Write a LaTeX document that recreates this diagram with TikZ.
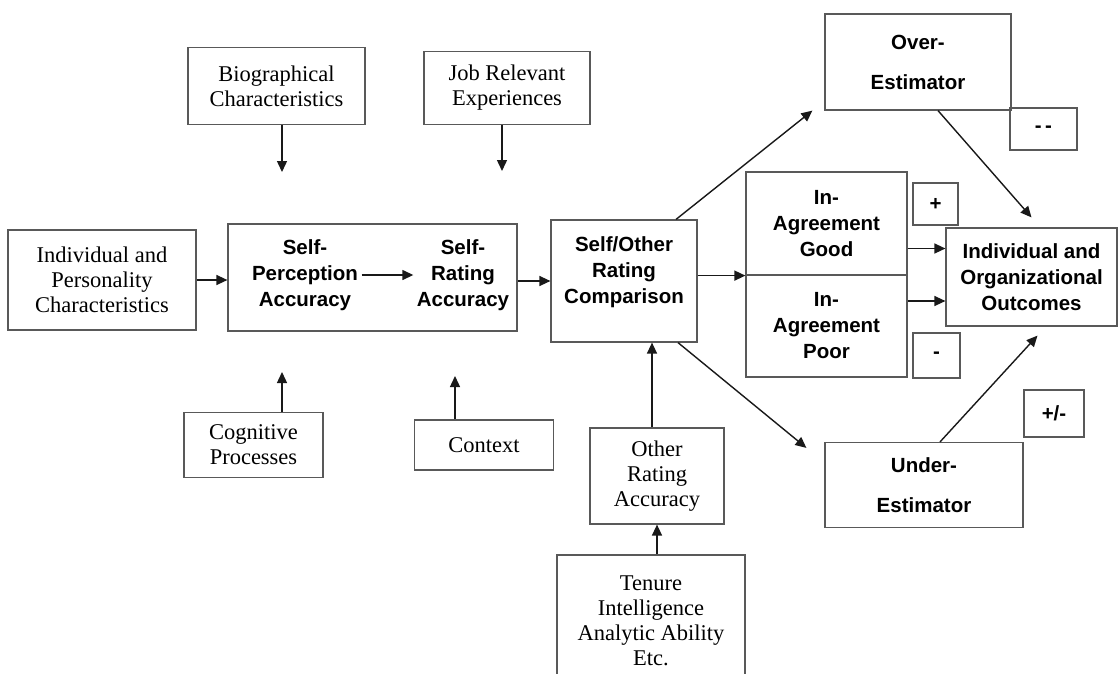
\documentclass[tikz,border=0pt]{standalone}
\usepackage{fontspec}
\setmainfont{Liberation Serif}
\newfontfamily\boldsans{Liberation Sans}
\usetikzlibrary{arrows.meta,calc}
\begin{document}
\begin{tikzpicture}[x=1pt,y=-1pt,
  box/.style={draw=black!65, line width=1.2pt, inner sep=0pt, align=center},
  serif/.style={font=\fontsize{22.5}{25}\selectfont},
  bsans/.style={font=\boldsans\bfseries\fontsize{20.5}{26}\selectfont, align=center},
  tall/.style={font=\boldsans\bfseries\fontsize{20.5}{40}\selectfont, align=center},
  arr/.style={line width=1.4pt, draw=black!90, -{Triangle[length=11pt,width=10pt]}}]
\clip (0,0) rectangle (1119,673);
\fill[white] (0,0) rectangle (1119,673);
% top inputs
\node[box,serif,minimum width=177,minimum height=77] (bio) at (276.5,86) {Biographical\\Characteristics};
\node[box,serif,minimum width=166,minimum height=73] (job) at (507,88) {Job Relevant\\Experiences};
\node[box,serif,minimum width=188,minimum height=100] (ind) at (102,280) {Individual and\\Personality\\Characteristics};
% self box
\node[box,minimum width=289,minimum height=107] (self) at (372.5,277.5) {};
\node[bsans] (sp) at (305,275) {Self-\\Perception\\Accuracy};
\node[bsans] (sr) at (463,275) {Self-\\Rating\\Accuracy};
% comparison
\node[box,bsans,minimum width=146,minimum height=122,text depth=22pt] (so) at (624,281) {Self/Other\\Rating\\Comparison};
\node[box,bsans,minimum width=161,minimum height=103] (good) at (826.5,223.5) {In-\\Agreement\\Good};
\node[box,bsans,minimum width=161,minimum height=102] (poor) at (826.5,326) {In-\\Agreement\\Poor};
\node[box,tall,minimum width=186,minimum height=96] (over) at (918,62) {Over-\\Estimator};
\node[box,tall,minimum width=198,minimum height=85] (under) at (924,485) {Under-\\Estimator};
\node[box,bsans,minimum width=171,minimum height=98] (out) at (1031.5,277) {Individual and\\Organizational\\Outcomes};
% sign boxes
\node[box,bsans,minimum width=67,minimum height=42] (mm) at (1043.5,129) {-\,-};
\node[box,bsans,minimum width=45,minimum height=42] (plus) at (935.5,204) {+};
\node[box,bsans,minimum width=47,minimum height=45] (minus) at (936.5,355.5) {-};
\node[box,bsans,minimum width=60,minimum height=47] (pm) at (1054,413.5) {+/-};
% bottom inputs
\node[box,serif,minimum width=139,minimum height=65] (cog) at (253.5,445) {Cognitive\\Processes};
\node[box,serif,minimum width=139,minimum height=50] (ctx) at (484,445) {Context};
\node[box,serif,minimum width=134,minimum height=96] (other) at (657,476) {Other\\Rating\\Accuracy};
\node[box,serif,minimum width=188,minimum height=132] (ten) at (651,621) {Tenure\\Intelligence\\Analytic Ability\\Etc.};
% free ends
\coordinate (bioEnd) at (282,172);
\coordinate (jobEnd) at (502,171);
\coordinate (cogEnd) at (282,372);
\coordinate (ctxEnd) at (455,376);
% arrows
\draw[arr] (bio.south -| bioEnd) -- (bioEnd);
\draw[arr] (job.south -| jobEnd) -- (jobEnd);
\draw[arr] (cog.north -| cogEnd) -- (cogEnd);
\draw[arr] (ctx.north -| ctxEnd) -- (ctxEnd);
\draw[arr] (ind.east) -- (self.west |- ind.east);
\draw[arr] (sp.east) -- (sr.west);
\draw[arr] (self.east |- so.west) -- (so.west);
\draw[arr] (so.east |- good.south west) -- (good.south west);
\draw[arr] ([xshift=52pt]so.north) -- ([xshift=-12pt]over.south west);
\draw[arr] ([xshift=54pt]so.south) -- ([xshift=-18pt,yshift=-6pt]under.north west);
\draw[arr] ([xshift=-5pt]other.north) -- ([xshift=-5pt]other.north |- so.south);
\draw[arr] (ten.north -| other.south) -- (other.south);
\draw[arr] ([xshift=20pt]over.south) -- ([yshift=10pt]out.north);
\draw[arr] ([yshift=-25pt]good.east) -- ([yshift=-25pt]good.east -| out.west);
\draw[arr] ([yshift=25pt]poor.east) -- ([yshift=25pt]poor.east -| out.west);
\draw[arr] ([xshift=16pt]under.north) -- ([xshift=6pt,yshift=-9pt]out.south);
\end{tikzpicture}
\end{document}
